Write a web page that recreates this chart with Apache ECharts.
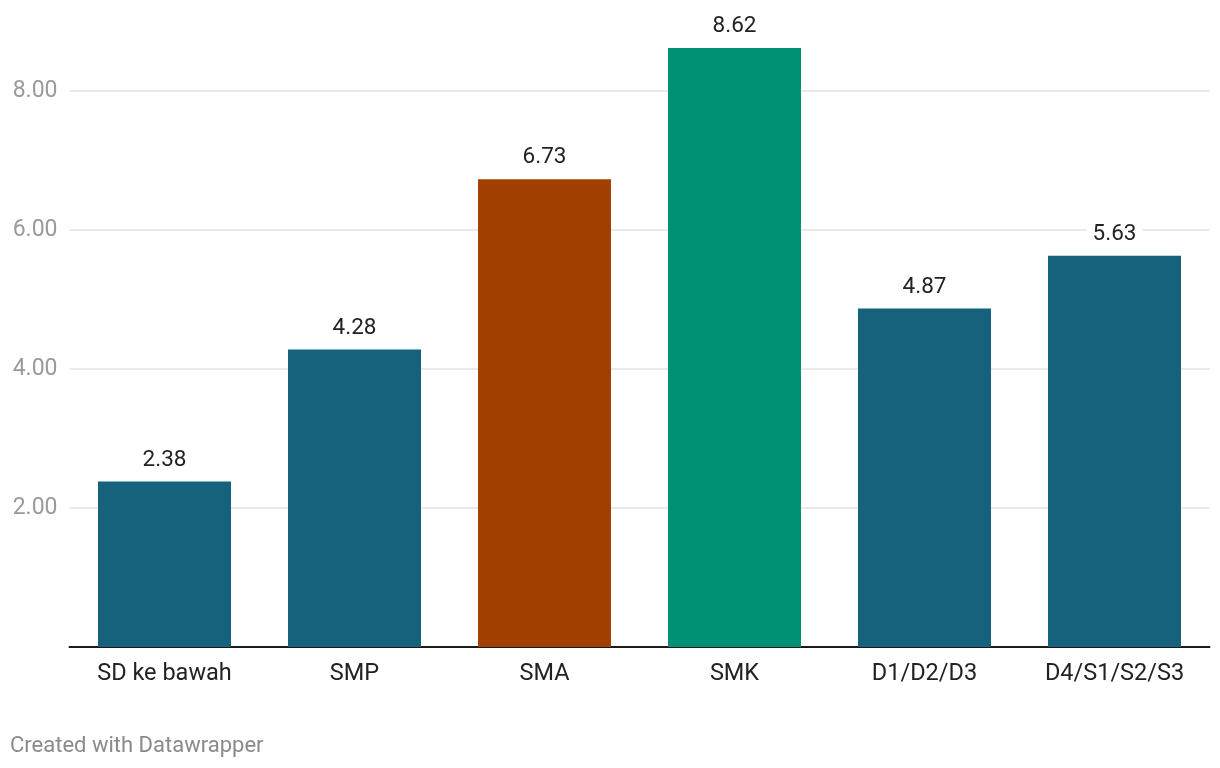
<!DOCTYPE html>
<html>
<head>
<meta charset="utf-8">
<script src="https://cdn.jsdelivr.net/npm/echarts@6/dist/echarts.min.js"></script>
<style>
html,body{margin:0;padding:0;background:#fff;}
#c{width:1220px;height:768px;}
</style>
</head>
<body>
<div id="c"></div>
<script>
const categories = ['SD ke bawah', 'SMP', 'SMA', 'SMK', 'D1/D2/D3', 'D4/S1/S2/S3'];
const values = [2.38, 4.28, 6.73, 8.62, 4.87, 5.63];
const barColors = ['#16617b', '#16617b', '#a14000', '#009073', '#16617b', '#16617b'];
const yTicks = [0, 2, 4, 6, 8];

const chart = echarts.init(document.getElementById('c'), null, {renderer: 'canvas'});
chart.setOption({
  animation: false,
  backgroundColor: '#fff',
  textStyle: {fontFamily: 'Roboto'},
  grid: {left: 69.5, right: 10.5, top: 91, bottom: 121, containLabel: false},
  graphic: [{
    type: 'text', left: 10, top: 735,
    style: {text: 'Created with Datawrapper', fill: '#8a8a8a', font: '22px Roboto'}
  }],
  xAxis: {
    type: 'category',
    data: categories,
    axisLine: {show: true, lineStyle: {color: '#1a1a1a', width: 2}},
    axisTick: {show: false},
    axisLabel: {color: '#222', fontSize: 23.5, margin: 15, fontFamily: 'Roboto'}
  },
  yAxis: {
    type: 'value',
    min: yTicks[0], max: yTicks[yTicks.length - 1], interval: 2,
    axisLine: {show: false},
    axisTick: {show: false},
    axisLabel: {
      color: '#9a9a9a', fontSize: 23, margin: 12, fontFamily: 'Roboto',
      showMinLabel: false,
      formatter: v => v === 0 ? '' : v.toFixed(2)
    },
    splitLine: {show: true, lineStyle: {color: '#e3e3e3', width: 1.5}}
  },
  series: [{
    type: 'bar',
    clip: false,
    barWidth: '70%',
    data: values.map((v, i) => ({value: v, itemStyle: {color: barColors[i]}})),
    label: {
      show: true, position: 'top', distance: 8,
      color: '#222', fontSize: 22.5, fontFamily: 'Roboto',
      backgroundColor: '#fff', padding: [2, 6],
      formatter: p => p.value.toFixed(2)
    }
  }]
});
</script>
</body>
</html>
